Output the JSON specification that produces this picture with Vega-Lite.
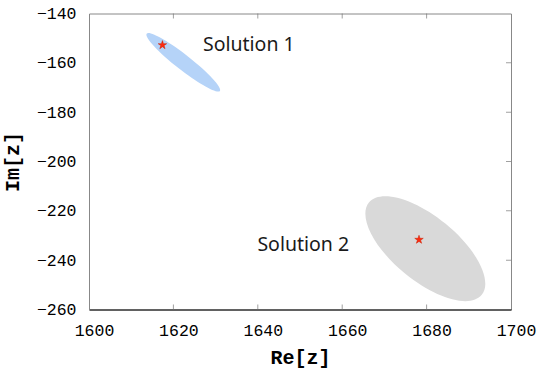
{
  "$schema": "https://vega.github.io/schema/vega-lite/v6.json",
  "width": 422,
  "height": 296,
  "autosize": "none",
  "padding": {"left": 89, "top": 13.5, "right": 34, "bottom": 65},
  "background": "white",
  "config": {
    "view": {"stroke": "#888888", "strokeWidth": 1},
    "axis": {
      "grid": false,
      "labelFont": "Liberation Mono",
      "labelFontSize": 16.5,
      "labelColor": "#000000",
      "labelFlush": false,
      "labelOverlap": false,
      "titleFont": "Liberation Mono",
      "titleFontSize": 20,
      "titleFontWeight": "bold",
      "titleColor": "#000000",
      "domainColor": "#888888"
    }
  },
  "datasets": {
    "regions": [
      {"solution": "Solution 1", "re": 1622.35, "im": -159.8},
      {"solution": "Solution 2", "re": 1679.7, "im": -235.35}
    ],
    "estimates": [
      {"solution": "Solution 1", "re": 1617.4, "im": -152.8},
      {"solution": "Solution 2", "re": 1678.2, "im": -231.7}
    ],
    "labels": [
      {"text": "Solution 1", "re": 1627.0, "im": -155.3},
      {"text": "Solution 2", "re": 1639.9, "im": -236.2}
    ],
    "xticks": [
      {"re": 1620, "top": -140, "bottom": -260},
      {"re": 1640, "top": -140, "bottom": -260},
      {"re": 1660, "top": -140, "bottom": -260},
      {"re": 1680, "top": -140, "bottom": -260}
    ],
    "yticks": [
      {"re": 1700, "im": -240},
      {"re": 1700, "im": -220},
      {"re": 1700, "im": -200},
      {"re": 1700, "im": -180},
      {"re": 1700, "im": -160}
    ]
  },
  "layer": [
    {
      "data": {"name": "regions"},
      "transform": [{"filter": "datum.solution === 'Solution 1'"}],
      "mark": {
        "type": "point",
        "filled": true,
        "opacity": 1,
        "strokeWidth": 0,
        "color": "#b5d3f8",
        "shape": "M1,0C1,0.089 0.5523,0.161 0,0.161C-0.5523,0.161 -1,0.089 -1,0C-1,-0.089 -0.5523,-0.161 0,-0.161C0.5523,-0.161 1,-0.089 1,0Z",
        "size": 8649,
        "angle": 38
      },
      "encoding": {
        "x": {
          "field": "re", "type": "quantitative", "title": "Re[z]",
          "scale": {"domain": [1600, 1700], "nice": false, "zero": false},
          "axis": {
            "orient": "bottom",
            "values": [1600, 1620, 1640, 1660, 1680, 1700],
            "format": "d",
            "ticks": false,
            "labelPadding": 13,
            "labelOffset": 5,
            "domainColor": "#000000",
            "titlePadding": 8
          }
        },
        "y": {
          "field": "im", "type": "quantitative", "title": "Im[z]",
          "scale": {"domain": [-260, -140], "nice": false, "zero": false},
          "axis": {
            "orient": "left",
            "values": [-260, -240, -220, -200, -180, -160, -140],
            "format": "d",
            "ticks": false,
            "labelPadding": 13,
            "titlePadding": 14
          }
        }
      }
    },
    {
      "data": {"name": "regions"},
      "transform": [{"filter": "datum.solution === 'Solution 2'"}],
      "mark": {
        "type": "point",
        "filled": true,
        "opacity": 1,
        "strokeWidth": 0,
        "color": "#d9d9d9",
        "shape": "M1,0C1,0.243 0.5523,0.44 0,0.44C-0.5523,0.44 -1,0.243 -1,0C-1,-0.243 -0.5523,-0.44 0,-0.44C0.5523,-0.44 1,-0.243 1,0Z",
        "size": 21257,
        "angle": 39.3
      },
      "encoding": {
        "x": {"field": "re", "type": "quantitative"},
        "y": {"field": "im", "type": "quantitative"}
      }
    },
    {
      "data": {"name": "xticks"},
      "mark": {"type": "tick", "orient": "vertical", "clip": true, "size": 10, "thickness": 1, "color": "#777777"},
      "encoding": {
        "x": {"field": "re", "type": "quantitative"},
        "y": {"field": "top", "type": "quantitative"}
      }
    },
    {
      "data": {"name": "xticks"},
      "mark": {"type": "tick", "orient": "vertical", "clip": true, "size": 10, "thickness": 1, "color": "#777777"},
      "encoding": {
        "x": {"field": "re", "type": "quantitative"},
        "y": {"field": "bottom", "type": "quantitative"}
      }
    },
    {
      "data": {"name": "yticks"},
      "mark": {"type": "tick", "orient": "horizontal", "clip": true, "size": 10, "thickness": 1, "color": "#777777"},
      "encoding": {
        "x": {"field": "re", "type": "quantitative"},
        "y": {"field": "im", "type": "quantitative"}
      }
    },
    {
      "data": {"name": "estimates"},
      "mark": {
        "type": "point",
        "shape": "M0,-1L0.2245,-0.309L0.951,-0.309L0.363,0.118L0.588,0.809L0,0.382L-0.588,0.809L-0.363,0.118L-0.951,-0.309L-0.2245,-0.309Z",
        "filled": true,
        "opacity": 1,
        "stroke": "#c81e00",
        "strokeWidth": 0.5,
        "size": 80,
        "color": "#ff2a10"
      },
      "encoding": {
        "x": {"field": "re", "type": "quantitative"},
        "y": {"field": "im", "type": "quantitative"}
      }
    },
    {
      "data": {"name": "labels"},
      "mark": {"type": "text", "align": "left", "baseline": "alphabetic", "font": "Noto Sans", "fontSize": 19.5, "color": "#1a1a1a"},
      "encoding": {
        "x": {"field": "re", "type": "quantitative"},
        "y": {"field": "im", "type": "quantitative"},
        "text": {"field": "text"}
      }
    }
  ]
}
